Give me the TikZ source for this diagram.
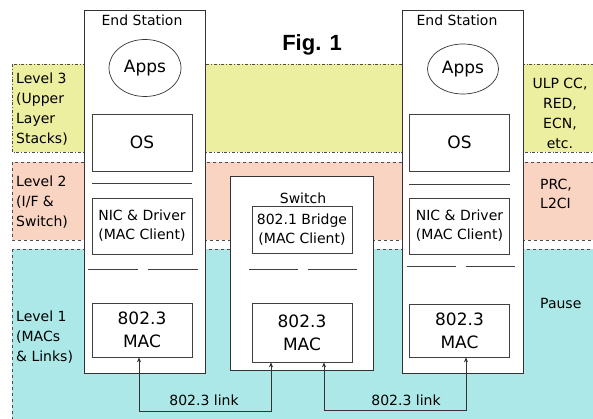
\documentclass[tikz,border=0pt]{standalone}
\usepackage{fontspec}
\setmainfont{DejaVu Sans}
\newfontfamily\figfont{Liberation Sans}
\usepackage{tikz}
\usetikzlibrary{calc,positioning,arrows,shapes}
\usetikzlibrary{arrows.meta}
\definecolor{lvlthree}{RGB}{236,238,160}
\definecolor{lvltwo}{RGB}{250,212,194}
\definecolor{lvlone}{RGB}{172,232,232}
\tikzstyle{level}     = [draw=black!70, line width=0.7pt]
\tikzstyle{side}      = [inner sep=0pt, align=left, anchor=west, font=\fontsize{14}{20}\selectfont]
\tikzstyle{station}   = [draw=black!80, fill=white, line width=0.8pt, inner sep=0pt]
\tikzstyle{title}     = [inner sep=0pt, font=\fontsize{14}{19}\selectfont]
\tikzstyle{layer}     = [draw=black!75, fill=white, line width=0.7pt, minimum width=100pt, inner sep=0pt, align=center, font=\fontsize{14}{19}\selectfont]
\tikzstyle{big}       = [font=\fontsize{17}{23}\selectfont]
\tikzstyle{apps}      = [ellipse, draw=black!80, fill=white, line width=0.7pt, inner sep=0pt, font=\fontsize{17}{23}\selectfont]
\tikzstyle{sep}       = [draw=black!75, line width=0.8pt]
\tikzstyle{link}      = [line width=0.6pt, draw=black!80, {Stealth[length=5pt,width=4pt]}-{Stealth[length=5pt,width=4pt]}]

\begin{document}
\begin{tikzpicture}[x=1pt,y=-1pt]
    \clip (0,0) rectangle (593,419);
    \fill[white] (0,0) rectangle (593,419);

    % levels
    \draw[level, dash dot, fill=lvlthree] (12,64) rectangle (600,152);
    \draw[level, dashed, fill=lvltwo] (12,162) rectangle (600,240);
    \draw[level, dashed, fill=lvlone] (12,249) rectangle (600,430);

    \node[side] (lvl3) at (16,109) {Level 3\\(Upper\\Layer\\Stacks)};
    \node[side] (lvl2) at (16,202) {Level 2\\(I/F \&\\Switch)};
    \node[side] (lvl1) at (16,337) {Level 1\\(MACs\\\& Links)};

    \node[side, align=center, anchor=center] (ulp) at (560,113) {ULP CC,\\RED,\\ECN,\\etc.};
    \node[side, font=\fontsize{14}{19}\selectfont] (prc) at (540,194) {PRC,\\L2CI};
    \node[side] (pause) at (540,303) {Pause};

    \node[font=\figfont\bfseries\fontsize{22}{26}\selectfont, inner sep=0pt] (fig) at (312,45) {Fig. 1};

    % left end station
    \node[station, minimum width=121pt, minimum height=363pt] (lst) at (144.5,191.5) {};
    \node[title] (lstn) at (142,20) {End Station};
    \node[apps, minimum width=72pt, minimum height=57pt] (lapps) at (145,68) {Apps};
    \node[layer, big, minimum height=57pt] (los) at (142,142.5) {OS};
    \draw[sep] (92,183) -- (192,183);
    \node[layer, minimum height=56pt] (lnic) at (142,226) {NIC \& Driver\\(MAC Client)};
    \draw[sep] (88,269) -- (138,269);
    \draw[sep] (148,269) -- (198,269);
    \node[layer, big, minimum height=54pt] (lmac) at (142,330) {802.3\\MAC};

    % switch
    \node[station, minimum width=143pt, minimum height=194pt] (sw) at (301.5,273) {};
    \node[title] (swn) at (303,198) {Switch};
    \node[layer, minimum height=47pt] (bridge) at (302,229.5) {802.1 Bridge\\(MAC Client)};
    \draw[sep] (249,269) -- (298,269);
    \draw[sep] (308,269) -- (357,269);
    \node[layer, big, minimum height=59pt] (smac) at (302,332.5) {802.3\\MAC};

    % right end station
    \node[station, minimum width=121pt, minimum height=363pt] (rst) at (462.5,191.5) {};
    \node[title] (rstn) at (457,20) {End Station};
    \node[apps, minimum width=71pt, minimum height=50pt] (rapps) at (463,69) {Apps};
    \node[layer, big, minimum height=57pt] (ros) at (459.5,142.5) {OS};
    \draw[sep] (409,184) -- (510,184);
    \node[layer, minimum height=56pt] (rnic) at (459.5,226) {NIC \& Driver\\(MAC Client)};
    \draw[sep] (407,266) -- (456,266);
    \draw[sep] (466,266) -- (515,266);
    \node[layer, big, minimum height=53pt] (rmac) at (459.5,330.5) {802.3\\MAC};

    % links
    \coordinate (la) at (139,411);
    \coordinate (lb) at (271,411);
    \coordinate (ra) at (324,410);
    \coordinate (rb) at (466,410);
    \draw[link] (la |- lmac.south) -- (la) -- (lb) -- (lb |- smac.south);
    \draw[link] (ra |- smac.south) -- (ra) -- (rb) -- (rb |- rmac.south);
    \node[title] (lk1) at (204,400) {802.3 link};
    \node[title] (lk2) at (406,400) {802.3 link};
\end{tikzpicture}
\end{document}
